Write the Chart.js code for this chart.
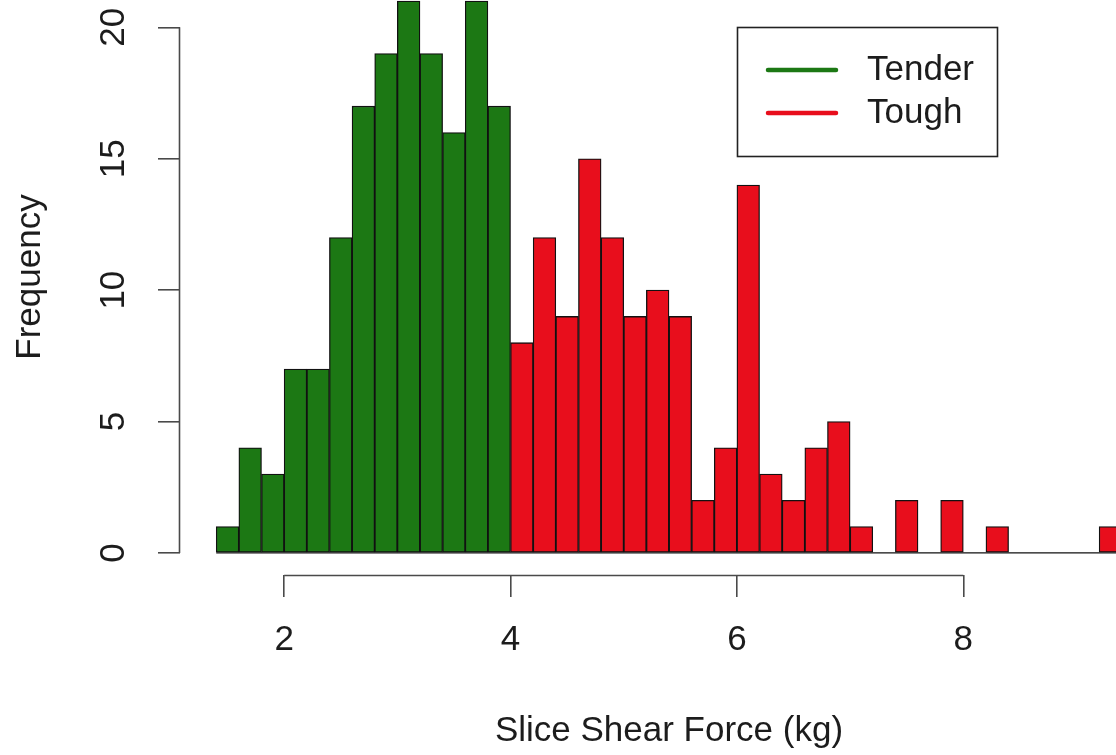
<!DOCTYPE html>
<html>
<head>
<meta charset="utf-8">
<script src="https://cdn.jsdelivr.net/npm/chart.js@4.4.1/dist/chart.umd.min.js"></script>
<style>
  html, body { margin: 0; padding: 0; background: #ffffff; overflow: hidden; width: 1116px; height: 755px; }
  #wrap { position: absolute; left: 0; top: -21px; width: 1158px; height: 776px; }
  canvas { display: block; }
</style>
</head>
<body>
<div id="wrap"><canvas id="c" width="1158" height="776"></canvas></div>
<script>
// ---- data (bin width 0.2 kg) ----
const seriesNames   = ['Tender', 'Tough'];
const tenderMids    = [1.5, 1.7, 1.9, 2.1, 2.3, 2.5, 2.7, 2.9, 3.1, 3.3, 3.5, 3.7, 3.9];
const tenderCounts  = [1, 4, 3, 7, 7, 12, 17, 19, 21, 19, 16, 21, 17];
const toughMids     = [4.1, 4.3, 4.5, 4.7, 4.9, 5.1, 5.3, 5.5, 5.7, 5.9, 6.1, 6.3, 6.5, 6.7, 6.9,
                       7.1, 7.3, 7.5, 7.7, 7.9, 8.1, 8.3, 8.5, 8.7, 8.9, 9.1, 9.3];
const toughCounts   = [8, 12, 9, 15, 12, 9, 10, 9, 2, 4, 14, 3, 2, 4, 5,
                       1, 0, 2, 0, 2, 0, 1, 0, 0, 0, 0, 1];
const binWidth      = 0.2;
const xTicks        = [2, 4, 6, 8];
const yTicks        = [0, 5, 10, 15, 20];
const xTitle        = 'Slice Shear Force (kg)';
const yTitle        = 'Frequency';

const GREEN = 'rgb(28,120,20)';
const RED   = 'rgb(232,14,28)';
const FONT  = '"Liberation Sans", Arial, Helvetica, sans-serif';
const FSIZE = 35;
const INK   = '#1c1c1c';
const AXIS  = '#4a4a4a';

const toPts = (mids, counts) => mids.map((m, i) => ({ x: m, y: counts[i] }));
const firstEdge = tenderMids[0] - binWidth / 2;
const lastEdge  = toughMids[toughMids.length - 1] + binWidth / 2;

// R-style detached axis lines (only between first and last tick)
const rAxes = {
  id: 'rAxes',
  afterDraw(chart) {
    const { ctx, chartArea, scales } = chart;
    ctx.save();
    ctx.strokeStyle = AXIS;
    ctx.lineWidth = 1.6;
    ctx.beginPath();
    const yb = Math.round(chartArea.bottom) + 0.5;
    ctx.moveTo(scales.x.getPixelForValue(xTicks[0]), yb);
    ctx.lineTo(scales.x.getPixelForValue(xTicks[xTicks.length - 1]), yb);
    const xl = Math.round(chartArea.left) - 0.5;
    ctx.moveTo(xl, scales.y.getPixelForValue(yTicks[0]));
    ctx.lineTo(xl, scales.y.getPixelForValue(yTicks[yTicks.length - 1]));
    ctx.stroke();
    ctx.restore();
  }
};

// R-style legend box with line keys
const rLegend = {
  id: 'rLegend',
  afterDraw(chart) {
    const ctx = chart.ctx;
    const bx = 737.5, by = 48.5, bw = 260, bh = 129;
    ctx.save();
    ctx.fillStyle = '#ffffff';
    ctx.fillRect(bx, by, bw, bh);
    ctx.strokeStyle = '#222222';
    ctx.lineWidth = 1.6;
    ctx.strokeRect(bx, by, bw, bh);
    const rows = chart.data.datasets.filter(d => d.type !== 'line');
    rows.forEach((ds, i) => {
      const y = 91 + i * 43;
      ctx.strokeStyle = ds.backgroundColor;
      ctx.lineWidth = 4.5;
      ctx.lineCap = 'round';
      ctx.beginPath();
      ctx.moveTo(768, y);
      ctx.lineTo(836, y);
      ctx.stroke();
      ctx.fillStyle = INK;
      ctx.font = FSIZE + 'px ' + FONT;
      ctx.textAlign = 'left';
      ctx.textBaseline = 'middle';
      ctx.fillText(ds.label, 867, y);
    });
    ctx.restore();
  }
};

const barStyle = {
  borderColor: '#111111',
  borderWidth: 1.3,
  borderSkipped: false,
  grouped: false,
  barPercentage: 1,
  categoryPercentage: 1
};

new Chart(document.getElementById('c'), {
  type: 'bar',
  data: {
    datasets: [
      Object.assign({ label: seriesNames[0], data: toPts(tenderMids, tenderCounts), backgroundColor: GREEN }, barStyle),
      Object.assign({ label: seriesNames[1], data: toPts(toughMids, toughCounts), backgroundColor: RED }, barStyle),
      {
        type: 'line',
        label: 'baseline',
        data: [{ x: firstEdge, y: 0 }, { x: lastEdge, y: 0 }],
        borderColor: '#111111',
        borderWidth: 1.3,
        pointRadius: 0,
        order: -1
      }
    ]
  },
  options: {
    responsive: false,
    animation: false,
    devicePixelRatio: 1,
    layout: { padding: 0 },
    plugins: {
      legend: { display: false },
      tooltip: { enabled: false },
      title: { display: false }
    },
    scales: {
      x: {
        type: 'linear',
        offset: false,
        min: 1.08,
        max: 9.72,
        afterBuildTicks: s => { s.ticks = xTicks.map(v => ({ value: v })); },
        afterFit: s => { s.height = 180; s.paddingLeft = 0; s.paddingRight = 0; },
        border: { display: false },
        grid: { offset: false, drawOnChartArea: false, drawTicks: true, tickLength: 22, color: AXIS, lineWidth: 1.6 },
        ticks: {
          autoSkip: false,
          maxRotation: 0,
          padding: 22,
          color: INK,
          font: { family: FONT, size: FSIZE },
          callback: v => String(v)
        },
        title: {
          display: true,
          text: xTitle,
          color: INK,
          font: { family: FONT, size: FSIZE },
          padding: { top: 0, bottom: 2.5 }
        }
      },
      y: {
        type: 'linear',
        min: -0.84,
        max: 21.84,
        afterBuildTicks: s => { s.ticks = yTicks.map(v => ({ value: v })); },
        afterFit: s => { s.width = 180; s.paddingTop = 0; s.paddingBottom = 0; },
        border: { display: false },
        grid: { drawOnChartArea: false, drawTicks: true, tickLength: 22, color: AXIS, lineWidth: 1.6 },
        ticks: {
          autoSkip: false,
          minRotation: 90,
          maxRotation: 90,
          crossAlign: 'center',
          padding: 24.5,
          color: INK,
          font: { family: FONT, size: FSIZE },
          callback: v => String(v)
        },
        title: {
          display: true,
          text: yTitle,
          color: INK,
          font: { family: FONT, size: FSIZE },
          padding: { top: 9.5, bottom: 0 }
        }
      }
    }
  },
  plugins: [rAxes, rLegend]
});
</script>
</body>
</html>
